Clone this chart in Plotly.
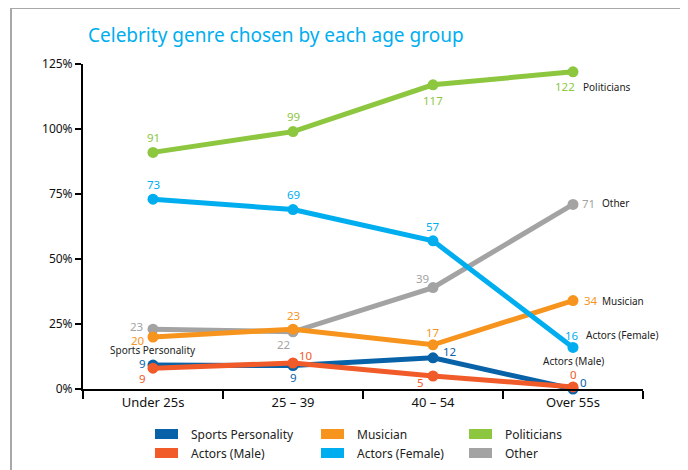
import plotly.graph_objects as go

# age groups on the x axis
age_groups = ['Under 25s', '25 – 39', '40 – 54', 'Over 55s']

# plotted values and the numbers printed next to them
sports = [9.2, 9, 12, 0]
sports_lbl = ['9', '9', '12', '0']
actors_male = [8, 10, 5, 0.8]
actors_male_lbl = ['9', '10', '5', '0']
musician = [20, 23, 17, 34]
musician_lbl = ['20', '23', '17', '34']
other = [23, 22, 39, 71]
other_lbl = ['23', '22', '39', '71']
actors_female = [73, 69, 57, 16]
actors_female_lbl = ['73', '69', '57', '16']
politicians = [91, 99, 117, 122]
politicians_lbl = ['91', '99', '117', '122']

y_ticks = [0, 25, 50, 75, 100, 125]
y_tick_text = ['0%', '25%', '50%', '75%', '100%', '125%']

FONT = 'Noto Sans'

series = [
    ('Sports Personality', sports, sports_lbl, '#0762a8',
     [(-11, 2), (0, -12), (16, 6), (10, 7)]),
    ('Actors (Male)', actors_male, actors_male_lbl, '#f15a29',
     [(-11, -10), (13, 8), (-13, -6), (0, 12)]),
    ('Other', other, other_lbl, '#a3a3a3',
     [(-17, 3), (-10, -13), (-11, 9), (15, 1)]),
    ('Musician', musician, musician_lbl, '#f7941d',
     [(-15, -3), (0, 14), (0, 12), (18, 0)]),
    ('Actors (Female)', actors_female, actors_female_lbl, '#00aeef',
     [(0, 15), (0, 15), (0, 14), (-1, 12)]),
    ('Politicians', politicians, politicians_lbl, '#8dc63f',
     [(0, 15), (0, 15), (0, -16), (-8, -15)]),
]

fig = go.Figure()
annotations = []
for name, vals, lbls, color, offs in series:
    fig.add_trace(go.Scatter(
        x=age_groups, y=vals, mode='lines+markers', name=name,
        line=dict(color=color, width=5), marker=dict(color=color, size=11),
        cliponaxis=False, showlegend=False, hoverinfo='skip'))
    for i, (cat, v, t) in enumerate(zip(age_groups, vals, lbls)):
        annotations.append(dict(
            x=cat, y=v, text=t, showarrow=False, xshift=offs[i][0], yshift=offs[i][1],
            borderpad=0, font=dict(family=FONT, size=11.5, color=color)))

# series names written in black beside the lines
name_tags = [
    ('Politicians', age_groups[3], politicians[3], 'left', 9, -15),
    ('Other', age_groups[3], other[3], 'left', 28, 1),
    ('Musician', age_groups[3], musician[3], 'left', 28, 0),
    ('Actors (Female)', age_groups[3], actors_female[3], 'left', 12, 12),
    ('Actors (Male)', age_groups[3], actors_male[3], 'center', 0, 26),
    ('Sports Personality', age_groups[0], sports[0], 'center', 0, 15),
]
for text, cat, v, anchor, xs, ys in name_tags:
    annotations.append(dict(
        x=cat, y=v, text=text, showarrow=False, xanchor=anchor, xshift=xs, yshift=ys,
        borderpad=0, font=dict(family=FONT, size=10, color='#222222')))

# legend drawn as swatches + labels below the axis (page pixels -> paper)
shapes = []
legend_pos = [(155, 434), (155, 453), (321, 434), (321, 453), (469, 434), (469, 453)]
legend_order = [0, 1, 3, 4, 5, 2]
for (px, py), idx in zip(legend_pos, legend_order):
    name, _, _, color, _ = series[idx]
    x0 = (px - 83) / 560
    x1 = (px + 23 - 83) / 560
    yc = (389 - py) / 325
    shapes.append(dict(type='rect', xref='paper', yref='paper', x0=x0, x1=x1,
                       y0=yc - 5 / 325, y1=yc + 5 / 325, fillcolor=color, line=dict(width=0)))
    annotations.append(dict(xref='paper', yref='paper', x=(px + 34 - 83) / 560, y=yc,
                            text=name, showarrow=False, xanchor='left', yanchor='middle',
                            font=dict(family=FONT, size=12, color='#222222')))

# grey frame round the whole graphic
shapes.append(dict(type='rect', xref='paper', yref='paper',
                   x0=(11 - 83) / 560, x1=(682 - 83) / 560,
                   y0=(389 - 480) / 325, y1=(389 - 8) / 325,
                   line=dict(color='#a8a8a8', width=2), layer='below'))

annotations.append(dict(xref='paper', yref='paper', x=(86 - 83) / 560, y=(389 - 35) / 325,
                        text='Celebrity genre chosen by each age group', showarrow=False,
                        xanchor='left', yanchor='middle',
                        font=dict(family=FONT, size=19, color='#00aeef')))

# page body has an 8px margin, so the figure is 8px smaller and shifted
fig.update_layout(
    width=680, height=462,
    margin=dict(l=75, r=45, t=56, b=81),
    plot_bgcolor='white', paper_bgcolor='white',
    font=dict(family=FONT, size=12, color='#111111'),
    annotations=annotations, shapes=shapes,
    xaxis=dict(type='category', range=[-0.5, 3.5], tickson='boundaries',
               ticks='outside', ticklen=8, tickwidth=2, tickcolor='black',
               showline=True, linewidth=2, linecolor='black', showgrid=False,
               tickfont=dict(family=FONT, size=13, color='#111111')),
    yaxis=dict(range=[0, 125], tickvals=y_ticks, ticktext=y_tick_text,
               ticks='outside', ticklen=6, tickwidth=2, tickcolor='black',
               showline=True, linewidth=2, linecolor='black', showgrid=False,
               zeroline=False, tickfont=dict(family=FONT, size=12, color='#111111')),
)

fig.write_html('out.html')
